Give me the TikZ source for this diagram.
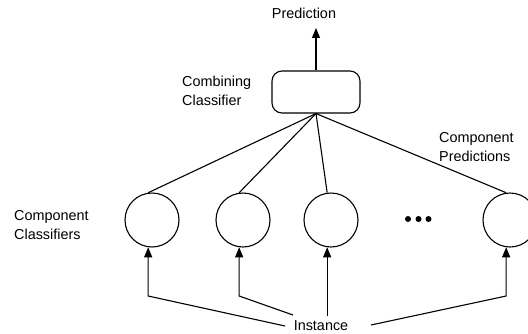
\documentclass[tikz,border=0pt]{standalone}
\usepackage{fontspec}
\setmainfont{Liberation Sans}
\usetikzlibrary{arrows.meta,calc}
\begin{document}
\begin{tikzpicture}[x=1pt,y=-1pt,
  lbl/.style={font=\fontsize{14.4}{19.5}\selectfont, inner sep=0pt},
  line/.style={line width=1.1pt, black},
  arr/.style={line, -{Triangle[length=10pt,width=8pt]}},
  comp/.style={circle, draw, line width=1.1pt, minimum size=54pt, inner sep=0pt},
  combbox/.style={draw, line width=1.1pt, rounded corners=10pt, minimum width=88pt, minimum height=42pt, inner sep=0pt},
  dot/.style={circle, fill=black, minimum size=6pt, inner sep=0pt}]
\useasboundingbox (0,0) rectangle (528,333);
\clip (0,0) rectangle (528,333);
% nodes
\node[lbl, inner sep=9pt] (pred) at (304,13.5) {Prediction};
\node[combbox] (box) at (316,92) {};
\node[lbl, anchor=west, align=left] (comb) at (182,91) {Combining\\Classifier};
\node[lbl, anchor=west, align=left] (cpred) at (439,147) {Component\\Predictions};
\node[lbl, anchor=west, align=left] (ccls) at (14,225) {Component\\Classifiers};
\node[comp] (c1) at (152,220) {};
\node[comp] (c2) at (243,220) {};
\node[comp] (c3) at (331,220) {};
\node[comp] (c4) at (510,220) {};
\node[dot] (d1) at (408,219) {};
\node[dot] (d2) at (418.5,219) {};
\node[dot] (d3) at (428.5,219) {};
\node[lbl] (inst) at (321,325.5) {Instance};
\coordinate (i1) at (285,326);
\coordinate (i2) at (293,315);
\coordinate (i3) at (327,316);
\coordinate (i4) at (371,325);
\coordinate (bendy) at (0,296);
% connectors
\draw[arr] (box.north) -- (box.north |- pred.south);
\draw[line] (box.south) -- (c1.98);
\draw[line] (box.south) -- (c2.98);
\draw[line] (box.south) -- (c3.98);
\draw[line] (box.south) -- (c4.98);
\draw[arr] (i1) -- (c1.262 |- bendy) -- (c1.262);
\draw[arr] (i2) -- (c2.262 |- bendy) -- (c2.262);
\draw[arr] (c3.262 |- i3) -- (c3.262);
\draw[arr] (i4) -- (c4.262 |- bendy) -- (c4.262);
\end{tikzpicture}
\end{document}
